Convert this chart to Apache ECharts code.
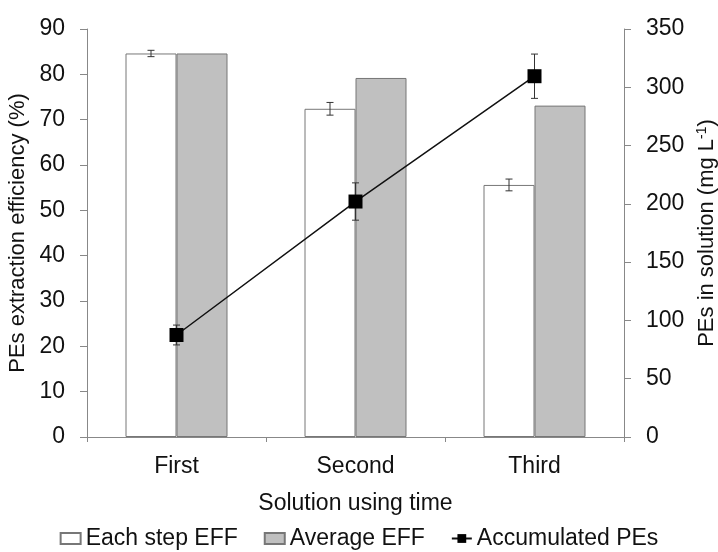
<!DOCTYPE html>
<html><head><meta charset="utf-8">
<script src="https://cdn.jsdelivr.net/npm/echarts@6/dist/echarts.min.js"></script>
<style>html,body{margin:0;padding:0;background:#fff}#c{width:718px;height:552px}</style>
</head><body><div id="c"></div>
<script>
const categories = ['First', 'Second', 'Third'];
const eachStep = [84.6, 72.4, 55.6];
const eachStepErr = [0.7, 1.4, 1.3];
const averageEff = [84.6, 79.2, 73.1];
const accumulated = [87.5, 202.0, 309.5];
const accumulatedErr = [8.5, 16, 19];
const leftTicks = [0, 90, 10];
const rightTicks = [0, 350, 50];

const FONT = 'Liberation Sans, Arial, sans-serif';
const chart = echarts.init(document.getElementById('c'));
const BAR_W = 51;

function errRender(offsetSign, vals, errs) {
  return function (params, api) {
    const i = api.value(0);
    const base = api.coord([i, vals[i]]);
    const x = base[0] + offsetSign * BAR_W / 2;
    const top = api.coord([i, vals[i] + errs[i]])[1];
    const bot = api.coord([i, vals[i] - errs[i]])[1];
    const cap = 3.5;
    const st = { stroke: '#333', lineWidth: 1 };
    return { type: 'group', children: [
      { type: 'line', shape: { x1: x, y1: top, x2: x, y2: bot }, style: st },
      { type: 'line', shape: { x1: x - cap, y1: top, x2: x + cap, y2: top }, style: st },
      { type: 'line', shape: { x1: x - cap, y1: bot, x2: x + cap, y2: bot }, style: st }
    ]};
  };
}

chart.setOption({
  animation: false,
  textStyle: { fontFamily: FONT },
  grid: { left: 87, right: 94, top: 29, bottom: 115, containLabel: false, outerBoundsMode: 'none' },
  legend: {
    bottom: 2, left: 'center', padding: 0, itemGap: 26, itemWidth: 20, itemHeight: 11,
    textStyle: { fontSize: 23, color: '#111', fontFamily: FONT },
    data: [
      { name: 'Each step EFF', icon: 'rect' },
      { name: 'Average EFF', icon: 'rect' },
      { name: 'Accumulated PEs' }
    ]
  },
  xAxis: {
    type: 'category', data: categories,
    name: 'Solution using time', nameLocation: 'middle', nameGap: 55,
    nameTextStyle: { fontSize: 23, color: '#111' },
    axisLine: { lineStyle: { color: '#888' } },
    axisTick: { show: true, alignWithLabel: false, length: 5, lineStyle: { color: '#888' } },
    axisLabel: { fontSize: 23, color: '#111', margin: 18 }
  },
  yAxis: [
    {
      type: 'value', min: leftTicks[0], max: leftTicks[1], interval: leftTicks[2],
      name: 'PEs extraction efficiency (%)', nameLocation: 'middle', nameGap: 50, nameRotate: 90,
      nameTextStyle: { fontSize: 22, color: '#111' },
      axisLine: { show: true, lineStyle: { color: '#888' } },
      axisTick: { show: true, length: 7, lineStyle: { color: '#888' } },
      axisLabel: { fontSize: 23, color: '#111', margin: 22 },
      splitLine: { show: false }
    },
    {
      type: 'value', min: rightTicks[0], max: rightTicks[1], interval: rightTicks[2],
      name: 'PEs in solution (mg L{sup|-1})', nameLocation: 'middle', nameGap: 68, nameRotate: 90,
      nameTextStyle: { fontSize: 22, color: '#111', rich: { sup: { fontSize: 14, verticalAlign: 'top', padding: [0, 0, 9, 0], color: '#111' } } },
      axisLine: { show: true, lineStyle: { color: '#888' } },
      axisTick: { show: true, length: 7, lineStyle: { color: '#888' } },
      axisLabel: { fontSize: 23, color: '#111', margin: 22 },
      splitLine: { show: false }
    }
  ],
  series: [
    {
      name: 'Each step EFF', type: 'bar', data: eachStep, barWidth: BAR_W, barGap: '0%',
      itemStyle: { color: '#ffffff', borderColor: '#777', borderWidth: 1 }
    },
    {
      name: 'Average EFF', type: 'bar', data: averageEff, barWidth: BAR_W, barGap: '0%',
      itemStyle: { color: '#c0c0c0', borderColor: '#777', borderWidth: 1 }
    },
    {
      name: 'eachErr', type: 'custom', z: 5,
      data: categories.map((c, i) => [i]),
      renderItem: errRender(-1, eachStep, eachStepErr),
      encode: { x: 0 }
    },
    {
      name: 'accErr', type: 'custom', yAxisIndex: 1, z: 5,
      data: categories.map((c, i) => [i]),
      renderItem: errRender(0, accumulated, accumulatedErr),
      encode: { x: 0 }
    },
    {
      name: 'Accumulated PEs', type: 'line', yAxisIndex: 1, data: accumulated, z: 10,
      symbol: 'rect', symbolSize: 14,
      lineStyle: { color: '#111', width: 1.5 },
      itemStyle: { color: '#000' }
    }
  ]
});
</script></body></html>
